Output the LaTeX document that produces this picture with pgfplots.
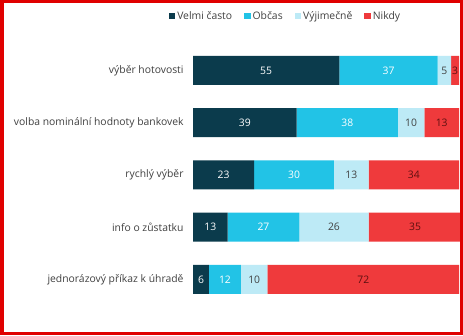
\documentclass[border=0pt]{standalone}
\usepackage{fontspec}
\setmainfont{Open Sans}
\usepackage{pgfplots}
\pgfplotsset{compat=1.18}
\definecolor{cVel}{HTML}{0B3B4C}
\definecolor{cObc}{HTML}{22C3E6}
\definecolor{cVyj}{HTML}{BDEAF6}
\definecolor{cNik}{HTML}{EF3A3C}
\definecolor{frameRed}{HTML}{E00000}
\definecolor{txt}{HTML}{404040}
\definecolor{darkred}{HTML}{5C1010}
\begin{document}
\begin{tikzpicture}[x=1bp,y=1bp]
\useasboundingbox (0,0) rectangle (463,335);
\fill[white] (0,0) rectangle (463,335);
\begin{axis}[
  at={(193bp,29.4bp)}, anchor=south west,
  scale only axis, width=268.66bp, height=261.25bp,
  xbar stacked, bar width=29bp,
  xmin=0, xmax=101, ymin=-0.5, ymax=4.5, y dir=reverse,
  hide x axis,
  y axis line style={draw=none},
  major tick length=0pt,
  /pgf/number format/assume math mode=true,
  ytick={0,1,2,3,4},
  yticklabels={výběr hotovosti, volba nominální hodnoty bankovek, rychlý výběr, info o zůstatku, jednorázový příkaz k úhradě},
  yticklabel style={font=\fontsize{10.4}{12}\selectfont, text=txt, xshift=-6bp},
  point meta=explicit,
  nodes near coords,
  every node near coord/.append style={font=\fontsize{10.4}{12}\selectfont},
  legend columns=4,
  legend style={at={(0.344,1.1085)}, anchor=center, draw=none, fill=none,
    font=\fontsize{10.4}{12}\selectfont, text=txt,
    /tikz/every even column/.append style={column sep=10bp}},
  legend image code/.code={\fill[#1] (0bp,-3bp) rectangle (6.5bp,3.5bp);},
]
\addplot[fill=cVel, draw=none, every node near coord/.append style={text=white}] coordinates {(55,0) [55] (39,1) [39] (23,2) [23] (13,3) [13] (6,4) [6]};
\addplot[fill=cObc, draw=none, every node near coord/.append style={text=white}] coordinates {(37,0) [37] (38,1) [38] (30,2) [30] (27,3) [27] (12,4) [12]};
\addplot[fill=cVyj, draw=none, every node near coord/.append style={text=txt}] coordinates {(5,0) [5] (10,1) [10] (13,2) [13] (26,3) [26] (10,4) [10]};
\addplot[fill=cNik, draw=none, every node near coord/.append style={text=darkred}] coordinates {(3,0) [3] (13,1) [13] (34,2) [34] (35,3) [35] (72,4) [72]};
\legend{Velmi často, Občas, Výjimečně, Nikdy}
\end{axis}
\draw[frameRed, line width=3.5bp] (1.75,1.75) rectangle (461.25,333.25);
\end{tikzpicture}
\end{document}
